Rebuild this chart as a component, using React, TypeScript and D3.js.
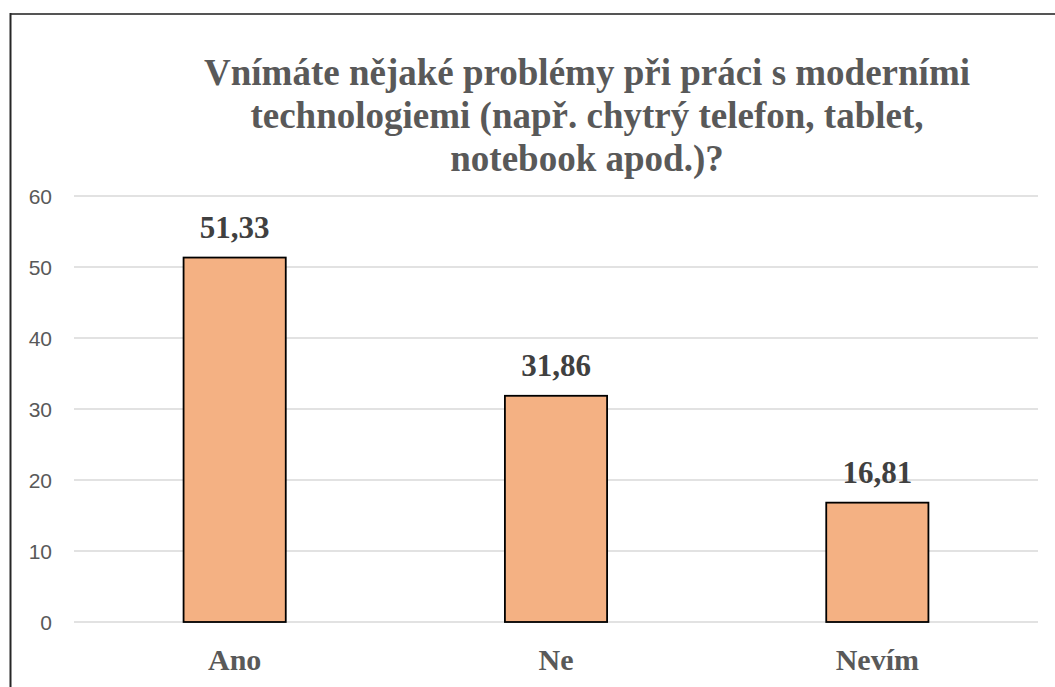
import React from 'react';
import * as d3 from 'd3';

// chart data
const categories = ['Ano', 'Ne', 'Nevím'];
const values = [51.33, 31.86, 16.81];
const valueLabels = ['51,33', '31,86', '16,81'];
const yTicks = [0, 10, 20, 30, 40, 50, 60];
const titleLines = [
  'Vnímáte nějaké problémy při práci s moderními',
  'technologiemi (např. chytrý telefon, tablet,',
  'notebook apod.)?',
];

const App = () => {
  const width = 1055;
  const height = 687;

  // plot area measurements
  const plot = { left: 74, right: 1038, top: 196, bottom: 622 };

  const xScale = d3
    .scaleBand()
    .domain(categories)
    .range([plot.left, plot.right])
    .paddingInner(0.682)
    .paddingOuter(0.341);

  const yScale = d3
    .scaleLinear()
    .domain([0, 60])
    .range([plot.bottom, plot.top]);

  const serif = { fontFamily: "'Liberation Serif', 'DejaVu Serif', serif", fontWeight: 700 };
  const sans = { fontFamily: "'Liberation Sans', Arial, sans-serif" };

  const grid = yTicks.map((t) => (
    <g key={'g' + t}>
      <line
        x1={plot.left}
        x2={plot.right}
        y1={yScale(t)}
        y2={yScale(t)}
        stroke="#d9d9d9"
        strokeWidth={1.5}
      />
      <text
        x={52}
        y={yScale(t)}
        dy="0.36em"
        textAnchor="end"
        style={sans}
        fontSize={21}
        fill="#595959"
      >
        {t}
      </text>
    </g>
  ));

  const bars = categories.map((c, i) => (
    <g key={c}>
      <rect
        x={xScale(c)}
        y={yScale(values[i])}
        width={xScale.bandwidth()}
        height={plot.bottom - yScale(values[i])}
        fill="#F4B183"
        stroke="#000000"
        strokeWidth={1.8}
      />
      <text
        x={(xScale(c) as number) + xScale.bandwidth() / 2}
        y={yScale(values[i]) - 20}
        textAnchor="middle"
        style={serif}
        fontSize={31}
        fill="#404040"
      >
        {valueLabels[i]}
      </text>
      <text
        x={(xScale(c) as number) + xScale.bandwidth() / 2}
        y={670}
        textAnchor="middle"
        style={serif}
        fontSize={30}
        fill="#595959"
      >
        {c}
      </text>
    </g>
  ));

  return (
    <svg
      width={width}
      height={height}
      style={{ position: 'absolute', left: 0, top: 0, background: '#ffffff' }}
    >
      <rect x={0} y={0} width={width} height={height} fill="#ffffff" />
      <line x1={10.5} x2={width} y1={14} y2={14} stroke="#555555" strokeWidth={2} />
      <line x1={10.5} x2={10.5} y1={13} y2={height} stroke="#262626" strokeWidth={2} />
      <g>
        {titleLines.map((l, i) => (
          <text
            key={i}
            x={587}
            y={85 + i * 43}
            textAnchor="middle"
            style={serif}
            fontSize={37}
            fill="#595959"
          >
            {l}
          </text>
        ))}
      </g>
      {grid}
      {bars}
    </svg>
  );
};

export default App;
